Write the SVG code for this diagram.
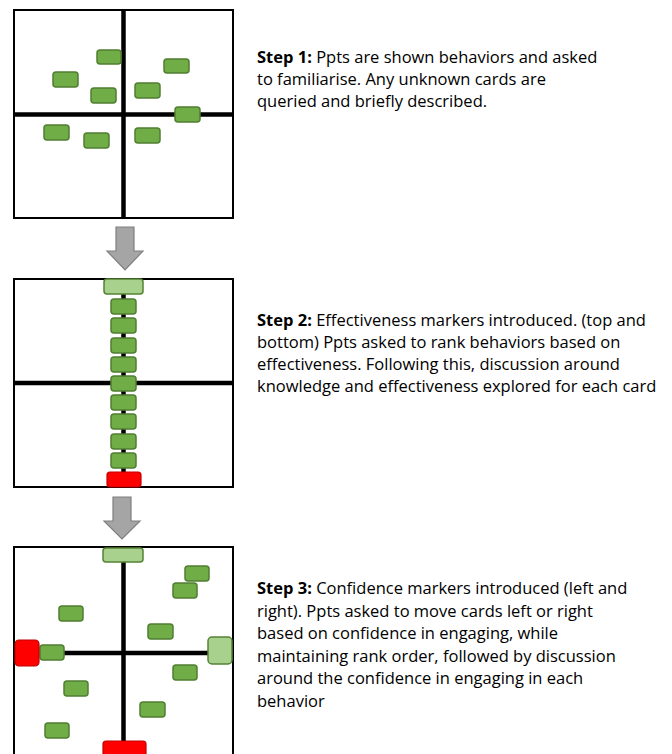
<svg xmlns="http://www.w3.org/2000/svg" width="672" height="754" viewBox="0 0 672 754">
<defs>
<style>
.box{fill:#fff;stroke:#000;stroke-width:2}
.axis{stroke:#000;stroke-width:4.5;fill:none}
.card{fill:#70AD47;stroke:#507E32;stroke-width:1.5}
.light{fill:#A9D18E;stroke:#548235;stroke-width:1.5}
.red{fill:#FF0000;stroke:#C00000;stroke-width:1.2}
.arrow{fill:#A5A5A5;stroke:#7F7F7F;stroke-width:1.2}
.txt{font-family:"Open Sans","Liberation Sans",sans-serif;font-size:16.5px;fill:#000}
.b{font-weight:bold}
</style>
</defs>
<rect width="672" height="754" fill="#fff"/>

<g id="panel1">
<rect class="box" x="14" y="10" width="219" height="208"/>
<line class="axis" x1="123.5" y1="10" x2="123.5" y2="218"/>
<line class="axis" x1="14" y1="114.5" x2="233" y2="114.5"/>
<rect class="card" x="97" y="50" width="24" height="14" rx="3"/>
<rect class="card" x="53" y="72" width="25" height="15" rx="3"/>
<rect class="card" x="91" y="88" width="25" height="15" rx="3"/>
<rect class="card" x="164" y="59" width="25" height="14" rx="3"/>
<rect class="card" x="135" y="83" width="25" height="15" rx="3"/>
<rect class="card" x="175" y="107" width="25" height="15" rx="3"/>
<rect class="card" x="44" y="125" width="25" height="15" rx="3"/>
<rect class="card" x="84" y="133" width="25" height="15" rx="3"/>
<rect class="card" x="135" y="128" width="25" height="15" rx="3"/>
</g>

<g id="panel2">
<rect class="box" x="14" y="279" width="219" height="208"/>
<line class="axis" x1="123.5" y1="279" x2="123.5" y2="487"/>
<line class="axis" x1="14" y1="383" x2="233" y2="383"/>
<rect class="light" x="104" y="279" width="39" height="15" rx="3"/>
<rect class="card" x="111" y="299" width="25" height="15" rx="3"/>
<rect class="card" x="111" y="318" width="25" height="15" rx="3"/>
<rect class="card" x="111" y="338" width="25" height="15" rx="3"/>
<rect class="card" x="111" y="357" width="25" height="15" rx="3"/>
<rect class="card" x="111" y="376" width="25" height="15" rx="3"/>
<rect class="card" x="111" y="395" width="25" height="15" rx="3"/>
<rect class="card" x="111" y="414" width="25" height="15" rx="3"/>
<rect class="card" x="111" y="434" width="25" height="15" rx="3"/>
<rect class="card" x="111" y="453" width="25" height="15" rx="3"/>
<rect class="red" x="107" y="472" width="34" height="15" rx="3"/>
</g>

<g id="panel3">
<rect class="box" x="14" y="547" width="219" height="220"/>
<line class="axis" x1="123.5" y1="562" x2="123.5" y2="742"/>
<line class="axis" x1="62" y1="653" x2="210" y2="653"/>
<rect class="light" x="103" y="548" width="40" height="14" rx="3"/>
<rect class="card" x="185" y="566" width="24" height="15" rx="3"/>
<rect class="card" x="173" y="583" width="24" height="15" rx="3"/>
<rect class="card" x="59" y="606" width="24" height="15" rx="3"/>
<rect class="card" x="148" y="624" width="25" height="15" rx="3"/>
<rect class="card" x="40" y="645" width="24" height="15" rx="3"/>
<rect class="card" x="173" y="665" width="24" height="15" rx="3"/>
<rect class="card" x="64" y="681" width="24" height="15" rx="3"/>
<rect class="card" x="140" y="702" width="25" height="15" rx="3"/>
<rect class="card" x="45" y="723" width="24" height="15" rx="3"/>
<rect class="red" x="15" y="640" width="24" height="26" rx="4"/>
<rect class="light" x="208" y="637" width="24" height="27" rx="4"/>
<rect class="red" x="103" y="741" width="43" height="20" rx="3"/>
</g>

<g id="connectors">
<path class="arrow" d="M116,227 H134 V251 H143 L125,270 L107,251 H116 Z"/>
<path class="arrow" d="M113,497 H131 V521 H140 L122,539 L104,521 H113 Z"/>
</g>

<g id="step1">
<text class="txt" x="257" y="63"><tspan class="b">Step 1:</tspan> Ppts are shown behaviors and asked</text>
<text class="txt" x="257" y="85">to familiarise. Any unknown cards are</text>
<text class="txt" x="257" y="107">queried and briefly described.</text>
</g>

<g id="step2">
<text class="txt" x="257" y="326"><tspan class="b">Step 2:</tspan> Effectiveness markers introduced. (top and</text>
<text class="txt" x="257" y="348">bottom) Ppts asked to rank behaviors based on</text>
<text class="txt" x="257" y="370">effectiveness. Following this, discussion around</text>
<text class="txt" x="257" y="392">knowledge and effectiveness explored for each card</text>
</g>

<g id="step3">
<text class="txt" x="257" y="594"><tspan class="b">Step 3:</tspan> Confidence markers introduced (left and</text>
<text class="txt" x="257" y="616.5">right). Ppts asked to move cards left or right</text>
<text class="txt" x="257" y="639">based on confidence in engaging, while</text>
<text class="txt" x="257" y="661.5">maintaining rank order, followed by discussion</text>
<text class="txt" x="257" y="684">around the confidence in engaging in each</text>
<text class="txt" x="257" y="706.5">behavior</text>
</g>
</svg>
